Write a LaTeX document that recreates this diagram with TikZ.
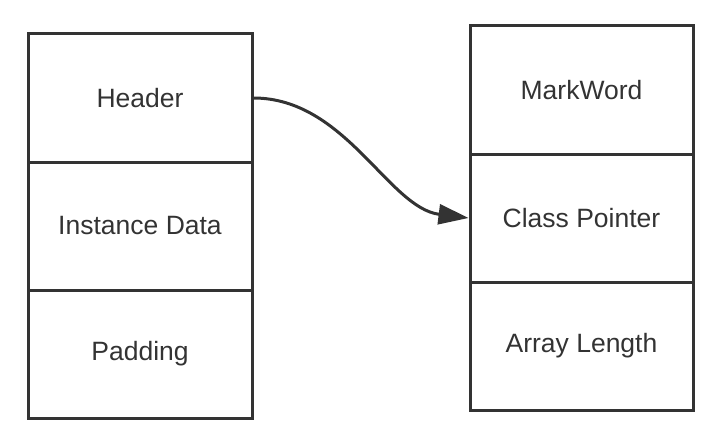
\documentclass[tikz,border=0pt]{standalone}
\usepackage{fontspec}
\setmainfont{Liberation Sans}
\usetikzlibrary{arrows.meta}
\definecolor{ink}{HTML}{333333}
\begin{document}
\begin{tikzpicture}[x=1pt,y=-1pt,
  cell/.style={draw=ink,line width=3pt,minimum width=224pt,minimum height=128pt,inner sep=0pt,text=ink,font=\fontsize{26.5}{30}\selectfont},
  link/.style={draw=ink,line width=3pt,-{Triangle[length=30pt,width=20pt]}}]
\useasboundingbox (0,0) rectangle (726,436);
\node[cell] (hdr) at (140,98) {Header};
\node[cell] (ins) at (140,226) {Instance Data};
\node[cell] (pad) at (140,354) {Padding};
\node[cell,minimum width=223pt] (mw) at (581.5,90) {MarkWord};
\node[cell,minimum width=223pt] (cp) at (581.5,218) {Class Pointer};
\node[cell,minimum width=223pt] (al) at (581.5,346) {Array Length};
\draw[link] (hdr.east) .. controls +(92,0) and +(-80,-10) .. (cp.west);
\end{tikzpicture}
\end{document}
